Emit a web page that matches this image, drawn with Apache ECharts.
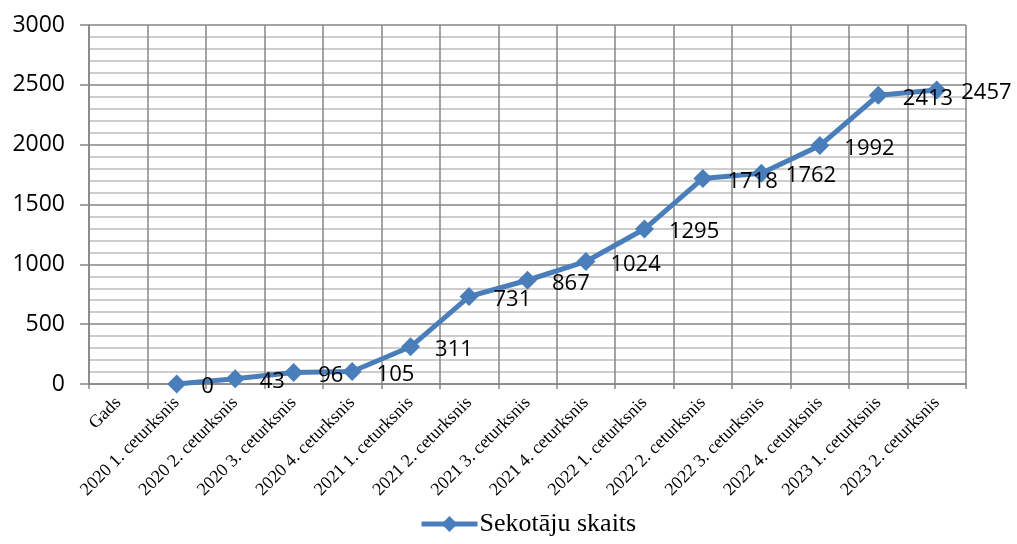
<!DOCTYPE html>
<html><head><meta charset="utf-8">
<script src="https://cdn.jsdelivr.net/npm/echarts@6/dist/echarts.min.js"></script>
<style>html,body{margin:0;padding:0;background:#fff}#c{width:1017px;height:544px}</style>
</head><body><div id="c"></div>
<script>
const categories = ["Gads","2020 1. ceturksnis","2020 2. ceturksnis","2020 3. ceturksnis","2020 4. ceturksnis","2021 1. ceturksnis","2021 2. ceturksnis","2021 3. ceturksnis","2021 4. ceturksnis","2022 1. ceturksnis","2022 2. ceturksnis","2022 3. ceturksnis","2022 4. ceturksnis","2023 1. ceturksnis","2023 2. ceturksnis"];
const seriesName = "Sekotāju skaits";
const values = [null,0,43,96,105,311,731,867,1024,1295,1718,1762,1992,2413,2457];
const yMin = 0, yMax = 3000, yInterval = 500;

const chart = echarts.init(document.getElementById('c'), null, {renderer:'canvas'});
chart.setOption({
  animation:false,
  grid:{left:89,right:51,top:25,bottom:160,containLabel:false},
  legend:{top:511,left:414,padding:[0,5],itemWidth:56,itemHeight:20,itemGap:10,
    lineStyle:{width:5},
    textStyle:{fontFamily:'Liberation Serif',fontSize:26,color:'#000',padding:[0,0,0,-3]},
    data:[seriesName]},
  xAxis:{type:'category',data:categories,boundaryGap:true,
    axisLine:{lineStyle:{color:'#868686',width:1.5}},
    axisTick:{show:true,length:5,lineStyle:{color:'#868686',width:1.5}},
    splitLine:{show:true,lineStyle:{color:'#868686',width:1.5}},
    axisLabel:{rotate:45,interval:0,margin:16,fontFamily:'Liberation Serif',fontSize:18,color:'#000'}},
  yAxis:{type:'value',min:yMin,max:yMax,interval:yInterval,
    axisLine:{show:true,lineStyle:{color:'#868686',width:1.5}},
    axisTick:{show:true,inside:false,length:9,lineStyle:{color:'#868686',width:1.5}},
    splitLine:{show:true,lineStyle:{color:'#868686',width:1.5}},
    minorTick:{show:false,splitNumber:5},
    minorSplitLine:{show:true,lineStyle:{color:'#bdbdbd',width:1.5}},
    axisLabel:{margin:24,fontFamily:'Open Sans',fontSize:23,color:'#000',formatter:v=>String(v)}},
  series:[{name:seriesName,type:'line',data:values,connectNulls:false,
    symbol:'diamond',symbolSize:19,
    lineStyle:{color:'#4a7ebb',width:5},
    itemStyle:{color:'#4a7ebb'},
    label:{show:true,position:'right',distance:15,offset:[0,3],
      fontFamily:'Open Sans',fontSize:22,color:'#000'}}]
});
</script></body></html>
